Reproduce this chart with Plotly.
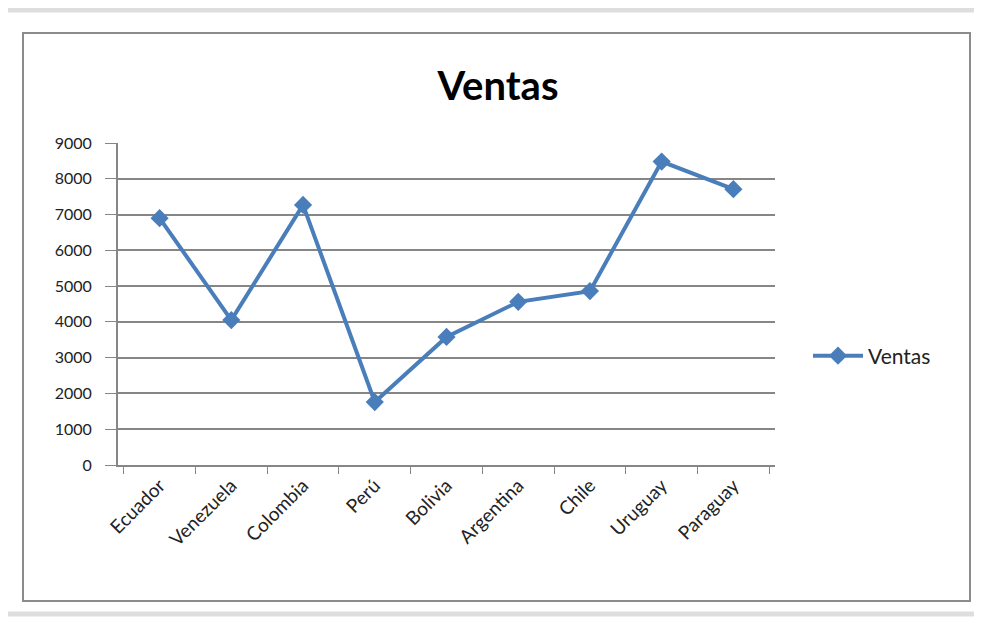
"""
Ventas por pais - line chart in the old Excel style
"""

import plotly.graph_objects as go

paises = ["Ecuador", "Venezuela", "Colombia", "Perú", "Bolivia",
          "Argentina", "Chile", "Uruguay", "Paraguay"]
ventas = [6900, 4050, 7270, 1760, 3580, 4560, 4860, 8480, 7710]
y_ticks = [0, 1000, 2000, 3000, 4000, 5000, 6000, 7000, 8000, 9000]

# the page body has an 8px margin, so the figure is drawn 8px in from the corner
OFF = 8
W, H = 982 - OFF, 618 - OFF
# plot area in page pixels
PL, PR, PT, PB = 118, 775, 143, 465

line_color = "#4A7EBB"
grid_color = "#868686"
font_name = "Lato, 'Open Sans', sans-serif"


def px_x(p):
    # page pixel -> paper x
    return (p - PL) / (PR - PL)


def px_y(p):
    # page pixel -> paper y
    return (PB - p) / (PB - PT)


fig = go.Figure()
fig.add_trace(go.Scatter(
    x=paises,
    y=ventas,
    mode="lines+markers",
    name="Ventas",
    line=dict(color=line_color, width=4),
    marker=dict(symbol="diamond", size=14, color=line_color),
))

shapes = [
    # soft outer shadow frame
    dict(type="rect", xref="paper", yref="paper", layer="below",
         x0=px_x(4), x1=px_x(977), y0=px_y(614), y1=px_y(10),
         line=dict(color="#dedede", width=5), fillcolor="white"),
    # chart area border
    dict(type="rect", xref="paper", yref="paper", layer="below",
         x0=px_x(23), x1=px_x(970), y0=px_y(601), y1=px_y(33),
         line=dict(color="#8c8c8c", width=2), fillcolor="white"),
]

fig.update_layout(
    width=W,
    height=H,
    margin=dict(l=PL - OFF, r=982 - PR, t=PT - OFF, b=618 - PB),
    paper_bgcolor="white",
    plot_bgcolor="white",
    font=dict(family=font_name, size=16, color="#222222"),
    title=dict(text="<b>Ventas</b>", x=(498 - OFF) / W, xref="container",
               xanchor="center", y=1 - (86 - OFF) / H, yref="container",
               yanchor="middle", font=dict(size=40, color="black")),
    showlegend=True,
    legend=dict(xref="container", yref="container", x=(808 - OFF) / W,
                y=1 - (356 - OFF) / H, xanchor="left", yanchor="middle",
                itemwidth=50,
                bgcolor="rgba(0,0,0,0)", font=dict(size=21, color="#222222")),
    shapes=shapes,
    xaxis=dict(
        type="category",
        tickson="boundaries",
        ticks="outside",
        ticklen=7,
        tickcolor=grid_color,
        showline=True,
        linecolor=grid_color,
        linewidth=2,
        showgrid=False,
        tickangle=-45,
        tickfont=dict(size=19),
    ),
    yaxis=dict(
        range=[0, 9000],
        tickvals=y_ticks,
        ticks="outside",
        ticklen=11,
        tickcolor=grid_color,
        showline=True,
        linecolor=grid_color,
        linewidth=2,
        showgrid=True,
        gridcolor=grid_color,
        gridwidth=1.5,
        zeroline=False,
        ticklabelstandoff=10,
        tickfont=dict(size=16),
    ),
)

fig.write_html("out.html")
